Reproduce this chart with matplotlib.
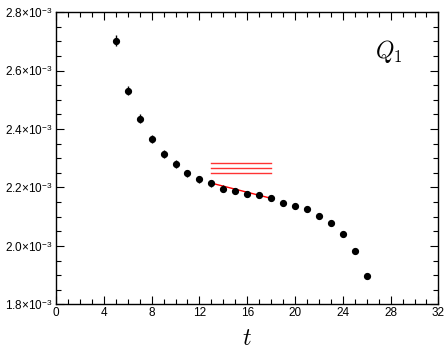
import matplotlib
matplotlib.use("Agg")
import matplotlib.pyplot as plt
from matplotlib.ticker import MultipleLocator, FuncFormatter

plt.rcParams['font.family'] = ['Liberation Sans', 'DejaVu Sans']
plt.rcParams['mathtext.fontset'] = 'cm'

# dane (w jednostkach 1e-3)
t = [5, 6, 7, 8, 9, 10, 11, 12, 13, 14, 15, 16, 17, 18, 19, 20, 21, 22, 23, 24, 25, 26]
q1 = [2.702, 2.531, 2.435, 2.366, 2.314, 2.280, 2.248, 2.228, 2.214, 2.196, 2.188,
      2.179, 2.174, 2.163, 2.146, 2.136, 2.125, 2.104, 2.078, 2.040, 1.984, 1.898]
q1_err = [0.019, 0.016, 0.015, 0.014, 0.013, 0.013, 0.012, 0.012, 0.011, 0.011, 0.010,
          0.010, 0.010, 0.010, 0.009, 0.009, 0.009, 0.009, 0.009, 0.009, 0.009, 0.009]

# dopasowanie (czerwona linia) i pasmo plateau
fit_t = [13, 18]
fit_q = [2.215, 2.163]
band_t = [13, 18]
band_q = [2.283, 2.265, 2.248]

fig = plt.figure(figsize=(4.47, 3.51), dpi=100)
ax = fig.add_axes([0.1253, 0.1325, 0.8555, 0.8333])

ax.errorbar(t, [v * 1e-3 for v in q1], yerr=[e * 1e-3 for e in q1_err], fmt='o',
            color='black', ms=4.2, elinewidth=1.0, capsize=0, zorder=3)
ax.plot(fit_t, [v * 1e-3 for v in fit_q], color='red', lw=1.0, zorder=2)
for v in band_q:
    ax.plot(band_t, [v * 1e-3, v * 1e-3], color='red', lw=1.0, alpha=0.8)

ax.set_xlim(0, 32)
ax.set_ylim(1.8e-3, 2.8e-3)
ax.xaxis.set_major_locator(MultipleLocator(4))
ax.xaxis.set_minor_locator(MultipleLocator(1))
ax.yaxis.set_major_locator(MultipleLocator(0.2e-3))
ax.yaxis.set_minor_locator(MultipleLocator(0.05e-3))
ax.yaxis.set_major_formatter(FuncFormatter(lambda v, p: "%.1f\u00d710$^{\\mathregular{-3}}$" % (v * 1e3)))
ax.tick_params(which='both', direction='in', top=True, right=True, labelsize=8.5, pad=2)
ax.tick_params(which='major', length=6, width=0.8)
ax.tick_params(which='minor', length=3.5, width=0.8)
for s in ax.spines.values():
    s.set_linewidth(1.0)

ax.set_xlabel('$t$', fontsize=17, labelpad=6)
ax.text(0.87, 0.865, '$Q_1$', transform=ax.transAxes, fontsize=17, ha='center', va='center')

fig.savefig("out.png", dpi=100)
